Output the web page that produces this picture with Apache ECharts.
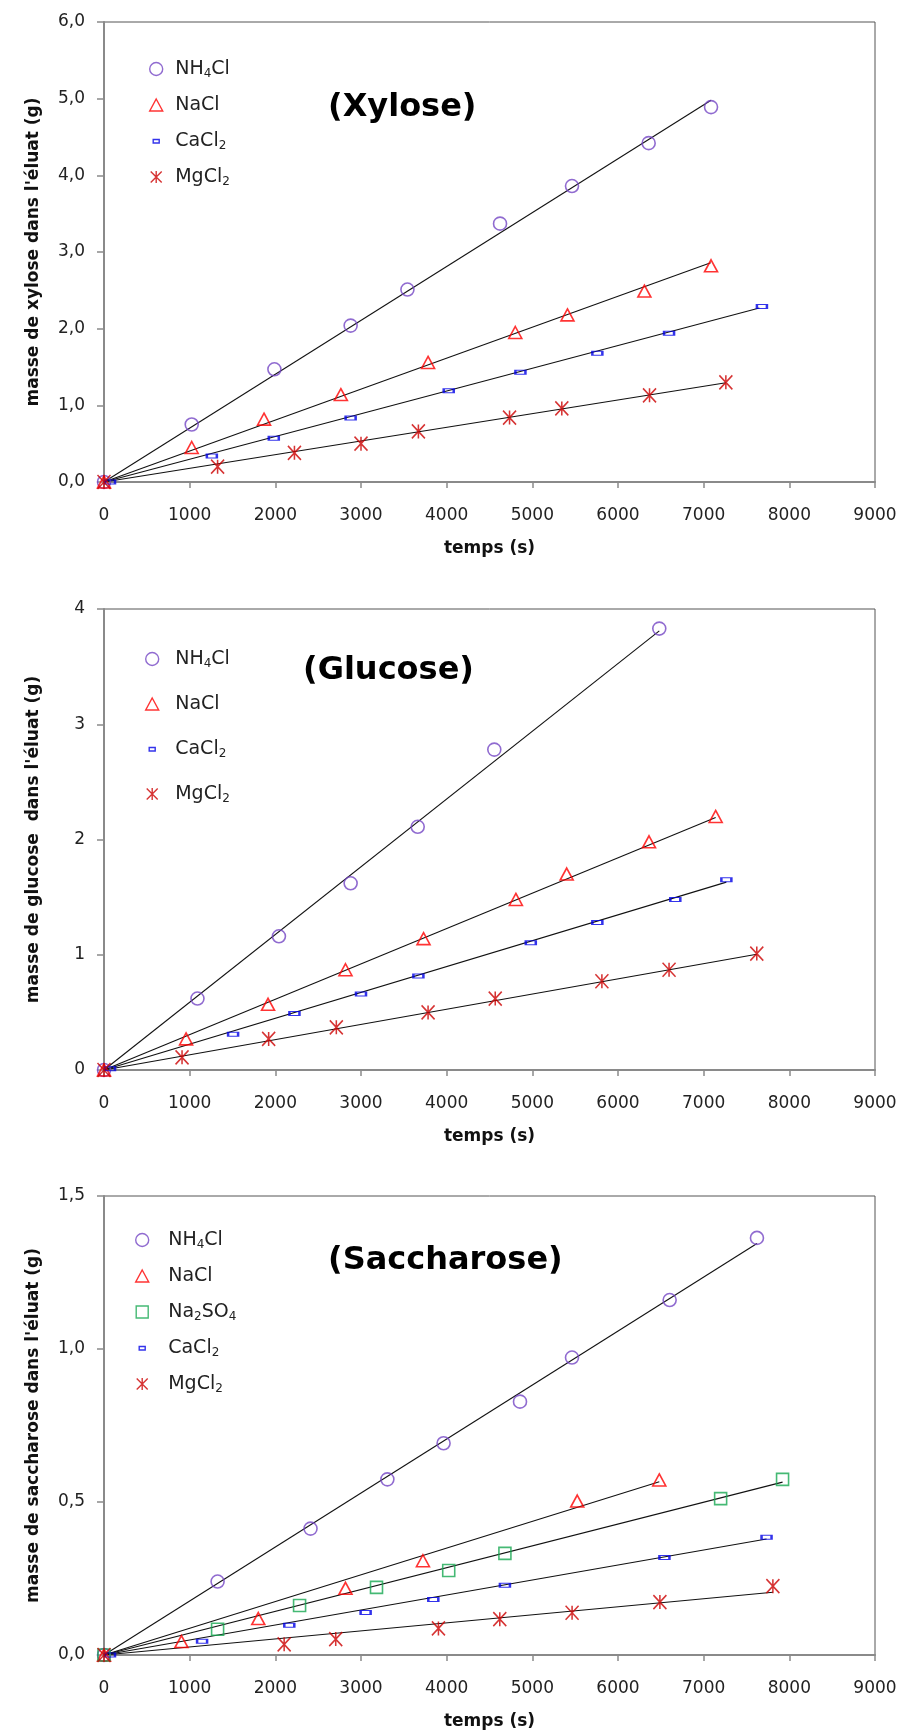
<!DOCTYPE html>
<html>
<head>
<meta charset="utf-8">
<script src="https://cdn.jsdelivr.net/npm/echarts@6/dist/echarts.min.js"></script>
<style>
  html, body { margin: 0; padding: 0; background: #fff; }
  #chart { width: 901px; height: 1733px; }
</style>
</head>
<body>
<div id="chart"></div>
<script>
// ---- measured points: [time (s), mass (g)] ----
const xyloseNH4Cl = [[0,0],[1024,0.75],[1989,1.47],[2879,2.04],[3542,2.51],[4623,3.37],[5463,3.86],[6358,4.42],[7086,4.89]];
const xyloseNaCl  = [[0,0],[1024,0.45],[1868,0.82],[2765,1.14],[3783,1.56],[4801,1.95],[5410,2.18],[6308,2.49],[7086,2.82]];
const xyloseCaCl2 = [[70,0],[1259,0.34],[1982,0.57],[2879,0.835],[4024,1.19],[4861,1.43],[5759,1.68],[6596,1.94],[7680,2.29]];
const xyloseMgCl2 = [[0,0],[1326,0.20],[2223,0.38],[3000,0.50],[3670,0.66],[4734,0.84],[5344,0.96],[6368,1.13],[7259,1.30]];

const glucoseNH4Cl = [[0,0],[1091,0.62],[2042,1.16],[2879,1.62],[3662,2.11],[4556,2.78],[6482,3.83]];
const glucoseNaCl  = [[0,0],[958,0.27],[1915,0.57],[2819,0.87],[3730,1.14],[4808,1.48],[5401,1.70],[6362,1.98],[7140,2.20]];
const glucoseCaCl2 = [[70,0.01],[1507,0.31],[2223,0.49],[3000,0.66],[3670,0.815],[4982,1.105],[5759,1.28],[6669,1.48],[7265,1.65]];
const glucoseMgCl2 = [[0,0],[911,0.11],[1922,0.27],[2712,0.37],[3783,0.50],[4567,0.62],[5812,0.77],[6596,0.87],[7620,1.01]];

const saccharoseNH4Cl  = [[0,0],[1326,0.24],[2411,0.413],[3308,0.574],[3964,0.692],[4856,0.828],[5463,0.972],[6603,1.16],[7622,1.363]];
const saccharoseNaCl   = [[0,0],[904,0.044],[1801,0.119],[2819,0.218],[3723,0.308],[5524,0.503],[6482,0.572]];
const saccharoseNa2SO4 = [[0,0],[1326,0.084],[2283,0.162],[3181,0.221],[4024,0.276],[4680,0.332],[7198,0.511],[7921,0.574]];
const saccharoseCaCl2  = [[70,0],[1145,0.045],[2163,0.097],[3054,0.139],[3844,0.181],[4680,0.228],[6542,0.319],[7734,0.385]];
const saccharoseMgCl2  = [[0,0],[2103,0.035],[2705,0.052],[3904,0.087],[4620,0.117],[5464,0.138],[6489,0.173],[7808,0.225]];

// ---- linear trend lines: [start, end] ----
const xyloseFitNH4Cl = [[0,0],[7086,4.98]];
const xyloseFitNaCl  = [[0,0],[7082,2.86]];
const xyloseFitCaCl2 = [[0,0],[7650,2.27]];
const xyloseFitMgCl2 = [[0,0],[7260,1.295]];

const glucoseFitNH4Cl = [[0,0],[6482,3.81]];
const glucoseFitNaCl  = [[0,0],[7140,2.19]];
const glucoseFitCaCl2 = [[0,0],[7265,1.63]];
const glucoseFitMgCl2 = [[0,0],[7620,1.005]];

const saccharoseFitNH4Cl  = [[0,0],[7622,1.345]];
const saccharoseFitNaCl   = [[0,0],[6482,0.566]];
const saccharoseFitNa2SO4 = [[0,0],[7921,0.565]];
const saccharoseFitCaCl2  = [[0,0],[7734,0.379]];
const saccharoseFitMgCl2  = [[0,0],[7808,0.205]];

// ---- axes ----
const timeTicks = { min: 0, max: 9000, step: 1000 };
const yRanges = [
  { min: 0, max: 6, step: 1, decimals: 1 },
  { min: 0, max: 4, step: 1, decimals: 0 },
  { min: 0, max: 1.5, step: 0.5, decimals: 1 }
];
const titles = ['(Xylose)', '(Glucose)', '(Saccharose)'];
const yNames = [
  "masse de xylose dans l'éluat (g)",
  "masse de glucose  dans l'éluat (g)",
  "masse de saccharose dans l'éluat (g)"
];
const xName = 'temps (s)';

// ---- appearance ----
const FONT = '"DejaVu Sans", sans-serif';
const styles = {
  NH4Cl:  { color: '#7446c4', symbol: 'circle', size: 13,
            icon: 'path://M0,6.5A6.5,6.5,0,1,1,13,6.5A6.5,6.5,0,1,1,0,6.5Z' },
  NaCl:   { color: '#ff0000', symbol: 'triangle', size: [13, 12],
            icon: 'path://M0,0M13,13M6.5,0.5L13,12.5L0,12.5Z' },
  Na2SO4: { color: '#17a851', symbol: 'rect', size: 12,
            icon: 'path://M0,0M13,13M0.5,0.5H12.5V12.5H0.5Z' },
  CaCl2:  { color: '#0000e6', symbol: 'rect', size: [10, 4],
            icon: 'path://M0,0M13,13M3.5,5H9.5V8.5H3.5Z' },
  MgCl2:  { color: '#cc0000', symbol: 'path://M0,0L12,14M12,0L0,14M6,0L6,14', size: [13, 14],
            icon: 'path://M0,0M13,13M1,1L12,12M12,1L1,12M6.5,0.5L6.5,12.5' }
};
const labelRich = {
  NH4Cl: 'NH{s|4}Cl',
  NaCl: 'NaCl',
  Na2SO4: 'Na{s|2}SO{s|4}',
  CaCl2: 'CaCl{s|2}',
  MgCl2: 'MgCl{s|2}'
};

const panels = [
  { top: 22, height: 460, titleX: 328, titleY: 108,
    legend: { left: 149, top: 58, itemWidth: 28, gap: 14 },
    sets: [['NH4Cl', xyloseNH4Cl, xyloseFitNH4Cl], ['NaCl', xyloseNaCl, xyloseFitNaCl],
           ['CaCl2', xyloseCaCl2, xyloseFitCaCl2], ['MgCl2', xyloseMgCl2, xyloseFitMgCl2]] },
  { top: 609, height: 461, titleX: 303, titleY: 671,
    legend: { left: 145, top: 648, itemWidth: 36, gap: 23 },
    sets: [['NH4Cl', glucoseNH4Cl, glucoseFitNH4Cl], ['NaCl', glucoseNaCl, glucoseFitNaCl],
           ['CaCl2', glucoseCaCl2, glucoseFitCaCl2], ['MgCl2', glucoseMgCl2, glucoseFitMgCl2]] },
  { top: 1196, height: 459, titleX: 328, titleY: 1261,
    legend: { left: 135, top: 1229, itemWidth: 42, gap: 14 },
    sets: [['NH4Cl', saccharoseNH4Cl, saccharoseFitNH4Cl], ['NaCl', saccharoseNaCl, saccharoseFitNaCl],
           ['Na2SO4', saccharoseNa2SO4, saccharoseFitNa2SO4], ['CaCl2', saccharoseCaCl2, saccharoseFitCaCl2],
           ['MgCl2', saccharoseMgCl2, saccharoseFitMgCl2]] }
];

const axisGrey = '#8a8a8a';
const grid = [], xAxis = [], yAxis = [], series = [], legend = [], graphic = [];

panels.forEach((p, i) => {
  grid.push({ left: 104, top: p.top, width: 771, height: p.height,
              show: true, borderColor: '#555', borderWidth: 1, backgroundColor: 'transparent' });

  xAxis.push({
    type: 'value', gridIndex: i, min: timeTicks.min, max: timeTicks.max, interval: timeTicks.step,
    axisLine: { show: true, onZero: false, lineStyle: { color: axisGrey, width: 2 } },
    axisTick: { show: true, length: 6, lineStyle: { color: axisGrey, width: 1.5 } },
    splitLine: { show: false },
    axisLabel: { fontFamily: FONT, fontSize: 17, color: '#222', margin: 25,
                 formatter: v => String(v) },
    name: xName, nameLocation: 'middle', nameGap: 58,
    nameTextStyle: { fontFamily: FONT, fontSize: 17, fontWeight: 'bold', color: '#111' }
  });

  const r = yRanges[i];
  yAxis.push({
    type: 'value', gridIndex: i, min: r.min, max: r.max, interval: r.step,
    axisLine: { show: true, onZero: false, lineStyle: { color: axisGrey, width: 2 } },
    axisTick: { show: true, length: 7, lineStyle: { color: axisGrey, width: 1.5 } },
    splitLine: { show: false },
    axisLabel: { fontFamily: FONT, fontSize: 17, color: '#222', margin: 19,
                 formatter: v => v.toFixed(r.decimals).replace('.', ',') },
    name: yNames[i], nameLocation: 'middle', nameGap: 62,
    nameTextStyle: { fontFamily: FONT, fontSize: 17, fontWeight: 'bold', color: '#111' }
  });

  p.sets.forEach(([salt, points, fit]) => {
    const s = styles[salt];
    series.push({
      name: 'fit ' + salt + ' ' + i, type: 'line', xAxisIndex: i, yAxisIndex: i,
      data: fit, showSymbol: false, symbol: 'none', silent: true, z: 2,
      lineStyle: { color: '#111', width: 1.1 }
    });
    series.push({
      name: salt, type: 'scatter', xAxisIndex: i, yAxisIndex: i, data: points, z: 3,
      symbol: s.symbol, symbolSize: s.size, clip: false,
      itemStyle: { color: 'rgba(0,0,0,0)', borderColor: s.color, borderWidth: 1.6 },
      emphasis: { disabled: true }
    });
  });

  legend.push({
    orient: 'vertical', left: p.legend.left, top: p.legend.top, padding: 0,
    itemWidth: p.legend.itemWidth, itemHeight: 13, itemGap: p.legend.gap,
    selectedMode: false,
    data: p.sets.map(([salt]) => ({
      name: salt, icon: styles[salt].icon,
      itemStyle: { color: 'rgba(0,0,0,0)', borderColor: styles[salt].color, borderWidth: 1.4 }
    })),
    formatter: name => labelRich[name],
    textStyle: {
      fontFamily: FONT, fontSize: 19, color: '#222', lineHeight: 22,
      rich: { s: { fontFamily: FONT, fontSize: 12, color: '#222', lineHeight: 22, padding: [9, 0, 0, 0] } }
    }
  });

  graphic.push({
    type: 'text', x: p.titleX, y: p.titleY, silent: true,
    style: { text: titles[i], fontFamily: FONT, fontSize: 32, fontWeight: 'bold',
             fill: '#000', verticalAlign: 'middle', align: 'left' }
  });
});

const chart = echarts.init(document.getElementById('chart'), null, { renderer: 'canvas' });
chart.setOption({
  animation: false,
  backgroundColor: '#fff',
  grid, xAxis, yAxis, series, legend, graphic
});
</script>
</body>
</html>
